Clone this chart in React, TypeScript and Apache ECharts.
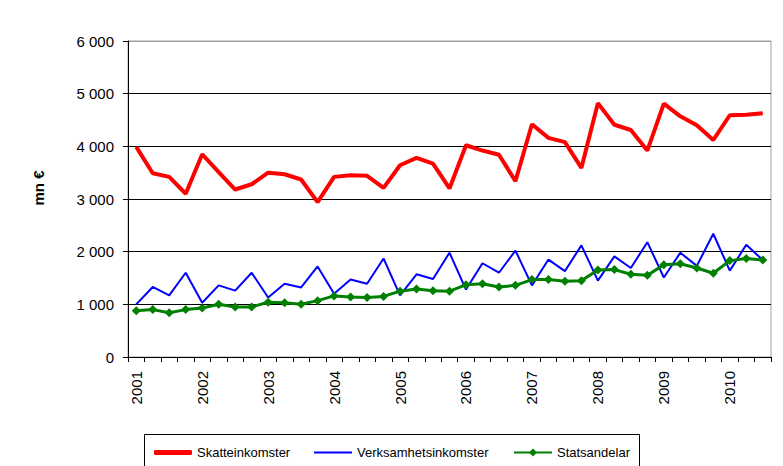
import React, { useEffect, useRef } from "react";
import * as echarts from "echarts";

const years = ["2001", "2002", "2003", "2004", "2005", "2006", "2007", "2008", "2009", "2010"];
const quarters = ["Q1", "Q2", "Q3", "Q4"];
const categories: string[] = [];
years.forEach((y) => quarters.forEach((q) => categories.push(y + " " + q)));
categories.splice(39);

const skatteinkomster = [3990, 3490, 3420, 3100, 3850, 3510, 3180, 3280, 3500, 3470, 3370, 2940, 3420, 3450, 3440, 3210, 3640, 3780, 3670, 3200, 4020, 3920, 3840, 3340, 4420, 4160, 4080, 3590, 4820, 4410, 4310, 3920, 4810, 4570, 4400, 4120, 4590, 4600, 4630];
const verksamhetsinkomster = [1000, 1330, 1170, 1600, 1030, 1360, 1260, 1600, 1130, 1390, 1320, 1720, 1200, 1470, 1390, 1870, 1170, 1570, 1480, 1980, 1280, 1780, 1600, 2020, 1360, 1850, 1630, 2120, 1450, 1910, 1690, 2180, 1510, 1980, 1730, 2340, 1640, 2130, 1840];
const statsandelar = [880, 900, 840, 900, 930, 1000, 950, 950, 1040, 1030, 1000, 1070, 1160, 1140, 1130, 1150, 1250, 1290, 1260, 1250, 1370, 1390, 1330, 1360, 1470, 1470, 1440, 1450, 1650, 1660, 1570, 1550, 1750, 1770, 1690, 1590, 1830, 1870, 1840];

const seriesNames = ["Skatteinkomster", "Verksamhetsinkomster", "Statsandelar"];
const yAxisTitle = "mn €";

const FONT = "'Liberation Sans', Arial, sans-serif";

export default function App() {
  const ref = useRef<HTMLDivElement>(null);
  useEffect(() => {
    if (!ref.current) return;
    const chart = echarts.init(ref.current, null, { renderer: "svg" });
    const legendBase = {
      top: 446,
      padding: 0,
      itemWidth: 38,
      itemHeight: 10,
      textStyle: { fontSize: 13, fontFamily: FONT, color: "#000" },
      selectedMode: false,
    };
    chart.setOption({
      animation: false,
      backgroundColor: "#fff",
      textStyle: { fontFamily: FONT },
      grid: {
        left: 128,
        right: 12,
        top: 41,
        bottom: 109,
        show: true,
        borderColor: "#a0a0a0",
        borderWidth: 1,
      },
      legend: [
        { ...legendBase, left: 154, itemHeight: 5, icon: "roundRect", data: [seriesNames[0]] },
        { ...legendBase, left: 314, itemHeight: 2, icon: "rect", data: [seriesNames[1]] },
        { ...legendBase, left: 513, data: [seriesNames[2]] },
      ],
      graphic: [
        {
          type: "rect",
          shape: { x: 144.5, y: 434.5, width: 495, height: 40 },
          style: { fill: "none", stroke: "#000", lineWidth: 1 },
          z: -1,
        },
        {
          type: "text",
          x: 38,
          y: 188,
          rotation: Math.PI / 2,
          style: {
            text: yAxisTitle,
            font: "bold 15px " + FONT,
            fill: "#000",
            align: "center",
            verticalAlign: "middle",
          },
        },
      ],
      xAxis: {
        type: "category",
        data: categories,
        boundaryGap: true,
        axisLine: { lineStyle: { color: "#000", width: 1 } },
        axisTick: { show: true, interval: 0, length: 5, lineStyle: { color: "#000" } },
        axisLabel: {
          interval: 3,
          rotate: 90,
          margin: 14,
          fontSize: 15,
          fontFamily: FONT,
          color: "#000",
          formatter: (v: string) => v.slice(0, 4),
        },
        splitLine: { show: false },
      },
      yAxis: {
        type: "value",
        min: 0,
        max: 6000,
        interval: 1000,
        axisLine: { show: true, lineStyle: { color: "#000", width: 1 } },
        axisTick: { show: true, length: 5, lineStyle: { color: "#000" } },
        axisLabel: {
          margin: 14,
          fontSize: 15,
          fontFamily: FONT,
          color: "#000",
          formatter: (v: number) => (v >= 1000 ? Math.floor(v / 1000) + " " + String(v % 1000).padStart(3, "0") : String(v)),
        },
        splitLine: {
          show: true,
          lineStyle: { color: ["#000", "#000", "#000", "#000", "#000", "#000", "#a0a0a0"], width: 1 },
        },
      },
      series: [
        {
          name: seriesNames[0],
          type: "line",
          data: skatteinkomster,
          symbol: "none",
          lineStyle: { color: "#ff0000", width: 4 },
          itemStyle: { color: "#ff0000" },
          z: 3,
        },
        {
          name: seriesNames[1],
          type: "line",
          data: verksamhetsinkomster,
          symbol: "none",
          lineStyle: { color: "#0000ff", width: 2 },
          itemStyle: { color: "#0000ff" },
          z: 2,
        },
        {
          name: seriesNames[2],
          type: "line",
          data: statsandelar,
          symbol: "diamond",
          symbolSize: 9,
          lineStyle: { color: "#008000", width: 3 },
          itemStyle: { color: "#008000" },
          z: 4,
        },
      ],
    });
    return () => chart.dispose();
  }, []);
  return (
    <div
      ref={ref}
      style={{ position: "absolute", left: 0, top: 0, width: 783, height: 466 }}
    />
  );
}
